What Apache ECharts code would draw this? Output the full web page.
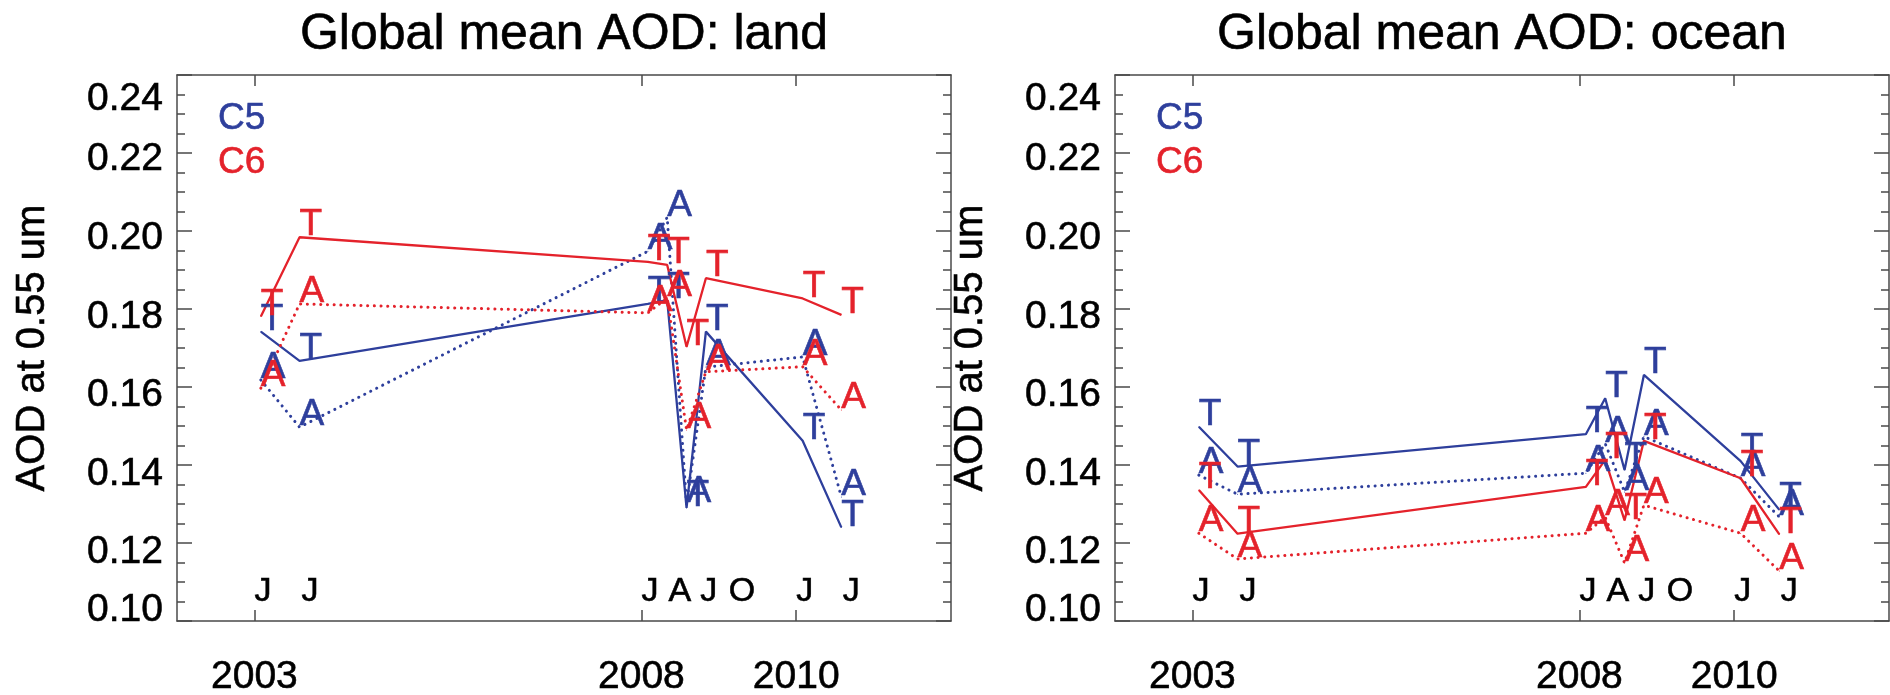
<!DOCTYPE html>
<html><head><meta charset="utf-8">
<script src="https://cdn.jsdelivr.net/npm/echarts@6/dist/echarts.min.js"></script>
<style>html,body{margin:0;padding:0;background:#fff}#c{width:1890px;height:695px}</style>
</head><body><div id="c"></div>
<script>
// ---------------- data ----------------
const obsYear  = [2003, 2003, 2008, 2008, 2008, 2008, 2010, 2010];
const obsMonth = [1, 7, 1, 4, 7, 10, 1, 7];

const landC5T  = [0.1742, 0.1667, 0.1813, 0.1823, 0.1290, 0.1742, 0.1462, 0.1240];
const landC5A  = [0.1618, 0.1497, 0.1948, 0.2035, 0.1300, 0.1651, 0.1677, 0.1318];
const landC6T  = [0.1781, 0.1984, 0.1921, 0.1913, 0.1703, 0.1879, 0.1827, 0.1785];
const landC6A  = [0.1597, 0.1813, 0.1790, 0.1828, 0.1490, 0.1639, 0.1652, 0.1541];

const oceanC5T = [0.1498, 0.1396, 0.1479, 0.1571, 0.1387, 0.1631, 0.1410, 0.1285];
const oceanC5A = [0.1374, 0.1325, 0.1379, 0.1455, 0.1331, 0.1473, 0.1366, 0.1267];
const oceanC6T = [0.1336, 0.1224, 0.1344, 0.1413, 0.1258, 0.1462, 0.1366, 0.1222];
const oceanC6A = [0.1225, 0.1159, 0.1225, 0.1266, 0.1149, 0.1297, 0.1225, 0.1128];

const yearTicks   = [2003, 2008, 2010];
const monthLetter = ['J', 'J', 'J', 'A', 'J', 'O', 'J', 'J'];
const monthLetterX = [2003.0, 2003.61, 2008.0, 2008.35, 2008.76, 2009.13, 2010.0, 2010.6];
const yTicks      = [0.10, 0.12, 0.14, 0.16, 0.18, 0.20, 0.22, 0.24];
const yTickText   = ['0.10', '0.12', '0.14', '0.16', '0.18', '0.20', '0.22', '0.24'];
const titles      = ['Global mean AOD: land', 'Global mean AOD: ocean'];

// ---------------- style / layout ----------------
const FONT = 'Liberation Sans';
const BLUE = '#2e3f9c', RED = '#e4222b', FRAME = '#4a4a4a';
const GRID_TOP = 75, GRID_H = 546, GRID_W = 774;
const gridLeft = [177, 1115];
const pxPerUnit = GRID_H / 0.14;
// label vertical shifts (px, + = down) reproducing the original lettering
const yLabelShift = [-10.5, 9, 9.5, 8, 8, 7, 6, 24];
const yLabelVals = yTicks.map((v, i) => v - yLabelShift[i] / pxPerUnit);

const xs = obsYear.map((y, i) => y + obsMonth[i] / 12);
function nearest(arr, v) {
  let b = 0;
  arr.forEach((a, i) => { if (Math.abs(a - v) < Math.abs(arr[b] - v)) b = i; });
  return b;
}

const chart = echarts.init(document.getElementById('c'), null, {renderer: 'canvas'});

const grids = [], xAxes = [], yAxes = [], series = [], title = [], legend = [];
const panels = [
  [landC5T, landC5A, landC6T, landC6A],
  [oceanC5T, oceanC5A, oceanC6T, oceanC6A]
];
const heavy = c => ({textBorderColor: c, textBorderWidth: 0.6});

panels.forEach((p, g) => {
  grids.push({left: gridLeft[g], top: GRID_TOP, width: GRID_W, height: GRID_H,
              containLabel: false, outerBoundsMode: 'none'});
  const xb = xAxes.length, yb = yAxes.length;
  xAxes.push({type: 'value', gridIndex: g, min: 2002, max: 2012, position: 'bottom',
    axisLine: {show: true, onZero: false, lineStyle: {color: FRAME, width: 1.5}},
    axisTick: {show: true, inside: true, length: 11, customValues: yearTicks, lineStyle: {color: FRAME, width: 1.5}},
    axisLabel: Object.assign({show: true, customValues: yearTicks, margin: 37, color: '#000',
      fontFamily: FONT, fontSize: 39, formatter: v => String(Math.round(v))}, heavy('#000')),
    splitLine: {show: false}});
  xAxes.push({type: 'value', gridIndex: g, min: 2002, max: 2012, position: 'bottom',
    axisLine: {show: false}, axisTick: {show: false}, splitLine: {show: false},
    axisLabel: Object.assign({show: true, inside: true, customValues: monthLetterX, margin: 12,
      align: 'left', color: '#000', fontFamily: FONT, fontSize: 34,
      formatter: v => monthLetter[nearest(monthLetterX, v)]}, heavy('#000'))});
  xAxes.push({type: 'value', gridIndex: g, min: 2002, max: 2012, position: 'top',
    axisLine: {show: true, onZero: false, lineStyle: {color: FRAME, width: 1.5}},
    axisTick: {show: true, inside: true, length: 11, customValues: yearTicks, lineStyle: {color: FRAME, width: 1.5}},
    axisLabel: {show: false}, splitLine: {show: false}});
  const yCommon = {type: 'value', gridIndex: g, min: 0.10, max: 0.24, interval: 0.02,
    splitLine: {show: false},
    axisLine: {show: true, onZero: false, lineStyle: {color: FRAME, width: 1.5}},
    axisTick: {show: true, inside: true, length: 15, lineStyle: {color: FRAME, width: 1.5}},
    minorTick: {show: true, splitNumber: 4, length: 8, lineStyle: {color: FRAME, width: 1.5}}};
  yAxes.push(Object.assign({}, yCommon, {position: 'left',
    name: 'AOD at 0.55 um', nameLocation: 'middle', nameGap: 124,
    nameTextStyle: Object.assign({color: '#000', fontFamily: FONT, fontSize: 40}, heavy('#000')),
    axisLabel: Object.assign({show: true, customValues: yLabelVals, margin: 14, color: '#000',
      fontFamily: FONT, fontSize: 39, formatter: v => yTickText[nearest(yLabelVals, v)]}, heavy('#000'))}));
  yAxes.push(Object.assign({}, yCommon, {position: 'right', axisLabel: {show: false}}));

  const defs = [
    {d: p[0], c: BLUE, dot: false, L: 'T', n: 'C5'},
    {d: p[1], c: BLUE, dot: true,  L: 'A', n: 'C5'},
    {d: p[2], c: RED,  dot: false, L: 'T', n: 'C6'},
    {d: p[3], c: RED,  dot: true,  L: 'A', n: 'C6'}
  ];
  defs.forEach(s => {
    series.push({
      type: 'line', name: s.n, xAxisIndex: xb, yAxisIndex: yb,
      data: xs.map((x, i) => [x, s.d[i]]),
      symbol: 'circle', symbolSize: 1, showSymbol: true,
      itemStyle: {color: s.c},
      lineStyle: s.dot ? {color: s.c, width: 3, type: [0.1, 6.6], cap: 'round'}
                       : {color: s.c, width: 2.3},
      label: Object.assign({show: true, position: 'inside', align: 'left', verticalAlign: 'middle',
        offset: [0, -12], formatter: s.L, color: s.c, fontFamily: FONT, fontSize: 37}, heavy(s.c)),
      animation: false, silent: true
    });
  });

  title.push({text: titles[g], left: gridLeft[g] + GRID_W / 2, top: 10, textAlign: 'center', padding: 0,
    textStyle: Object.assign({color: '#000', fontFamily: FONT, fontSize: 50, fontWeight: 'normal'}, heavy('#000'))});
  legend.push({left: gridLeft[g] + 35, top: 100, orient: 'vertical', itemWidth: 0, itemHeight: 0,
    itemGap: 6, padding: 0, selectedMode: false,
    textStyle: {fontFamily: FONT, fontSize: 37},
    data: [{name: 'C5', textStyle: Object.assign({color: BLUE}, heavy(BLUE))},
           {name: 'C6', textStyle: Object.assign({color: RED}, heavy(RED))}]});
});

chart.setOption({
  animation: false, backgroundColor: '#fff',
  title, legend, grid: grids, xAxis: xAxes, yAxis: yAxes, series
});
</script></body></html>
